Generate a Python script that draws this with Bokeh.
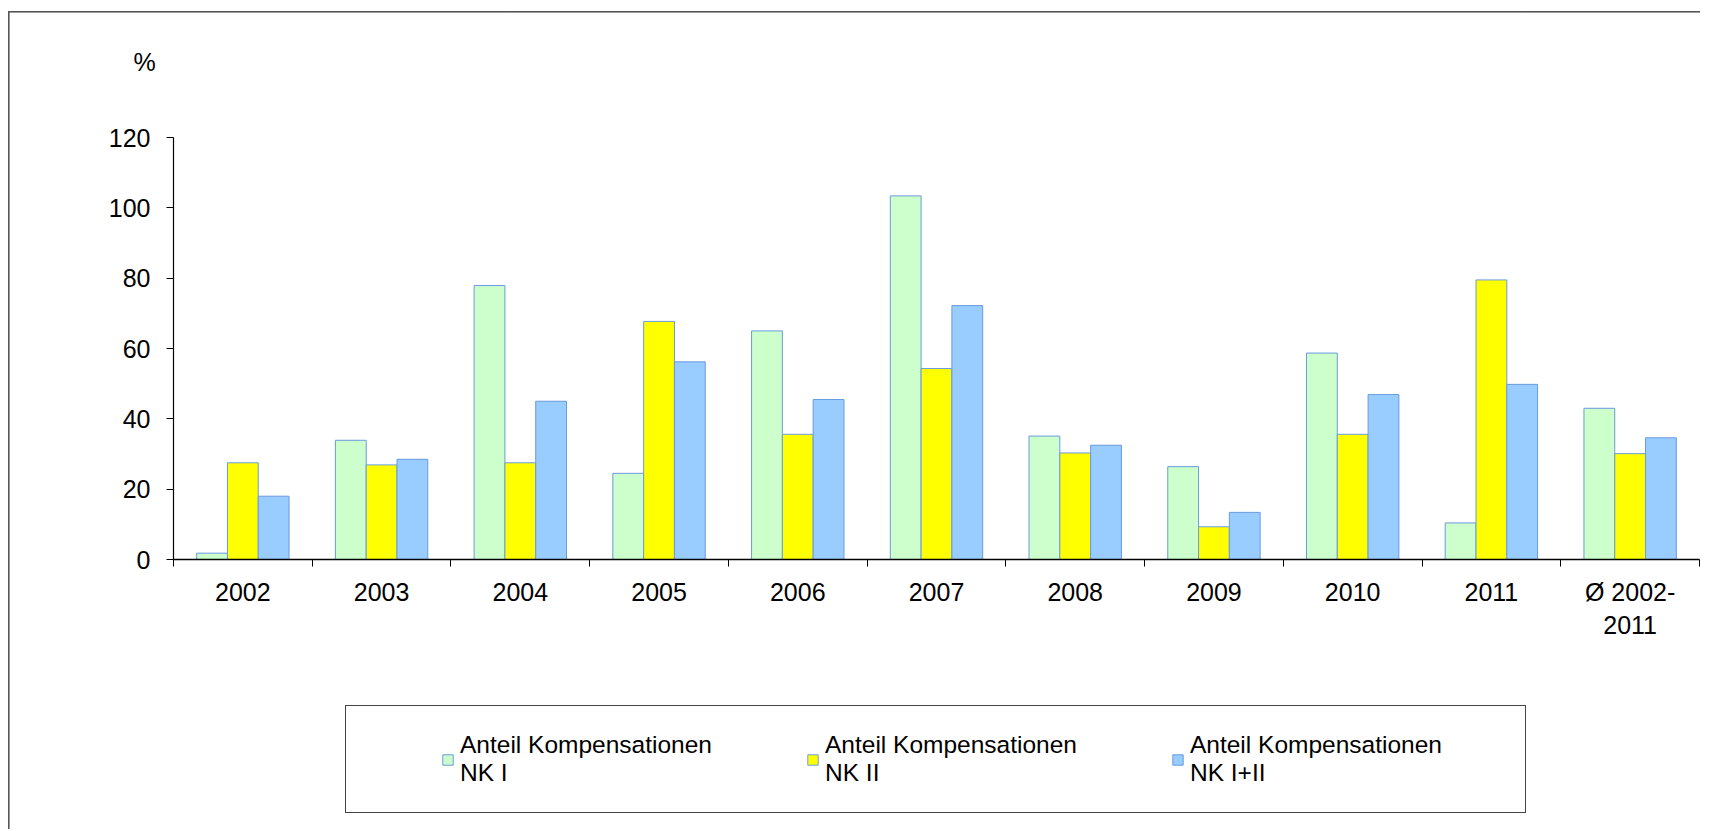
from bokeh.plotting import figure
from bokeh.layouts import column
from bokeh.models import (Range1d, LinearAxis, FixedTicker, Legend, LegendItem,
                          ColumnDataSource)
from bokeh.transform import dodge
from bokeh.embed import file_html
from bokeh.resources import INLINE

# ---------------- data ----------------
categories = ["2002", "2003", "2004", "2005", "2006", "2007", "2008", "2009",
              "2010", "2011", "Ø 2002-\n2011"]
nk1 = [1.8, 33.9, 77.9, 24.5, 65.0, 103.4, 35.1, 26.4, 58.7, 10.4, 43.0]
nk2 = [27.5, 26.9, 27.5, 67.7, 35.6, 54.3, 30.3, 9.3, 35.6, 79.5, 30.1]
nk12 = [18.0, 28.5, 45.0, 56.2, 45.5, 72.2, 32.5, 13.4, 46.9, 49.8, 34.6]
y_ticks = [0, 20, 40, 60, 80, 100, 120]
series_labels = ["Anteil Kompensationen\nNK I",
                 "Anteil Kompensationen\nNK II",
                 "Anteil Kompensationen\nNK I+II"]
series_keys = ["nk1", "nk2", "nk12"]
unit_label = "%"

# ---------------- styles ----------------
FONT = "Liberation Sans"
FS = "25px"
colors = ["#CCFFCC", "#FFFF00", "#99CCFF"]
edge = "#6A9AE0"
bar_w = 0.222
offsets = [-bar_w, 0, bar_w]
W = 1700

n = len(categories)
centers = [i + 0.5 for i in range(n)]
src = ColumnDataSource(dict(x=centers, nk1=nk1, nk2=nk2, nk12=nk12))


def bare(fig):
    fig.outline_line_color = None
    fig.background_fill_color = None
    fig.border_fill_color = None
    return fig


# ---------------- unit label strip ----------------
top = bare(figure(width=W, height=80, x_range=Range1d(0, 1), y_range=Range1d(0, 1),
                  output_backend="svg", toolbar_location=None,
                  x_axis_type=None, y_axis_type=None,
                  min_border_top=75, min_border_bottom=0, min_border_left=0, min_border_right=0))
top.title.text = unit_label
top.title.align = "left"
top.title.offset = -40
top.title.standoff = 0
top.title.text_font = FONT
top.title.text_font_size = FS
top.title.text_font_style = "normal"
top.title.text_color = "black"

# ---------------- chart ----------------
p = bare(figure(width=W, height=610, x_range=Range1d(0, n), y_range=Range1d(0, 120),
                output_backend="svg", toolbar_location=None, title=None,
                x_axis_type=None, y_axis_type=None,
                min_border_left=173, min_border_right=1,
                min_border_top=57, min_border_bottom=131))

for key, off, col in zip(series_keys, offsets, colors):
    p.vbar(x=dodge("x", off, range=p.x_range), top=key, bottom=0, width=bar_w,
           source=src, fill_color=col, line_color=edge, line_width=1)

yax = LinearAxis(ticker=FixedTicker(ticks=y_ticks, minor_ticks=[]))
yax.axis_line_color = "black"
yax.axis_line_width = 1.2
yax.major_tick_out = 7
yax.major_tick_in = 0
yax.major_tick_line_color = "black"
yax.minor_tick_line_color = None
yax.major_label_standoff = 16
yax.major_label_text_font = FONT
yax.major_label_text_font_size = FS
yax.major_label_text_color = "black"
p.add_layout(yax, "left")

xax = LinearAxis(ticker=FixedTicker(ticks=centers, minor_ticks=list(range(n + 1))))
xax.major_label_overrides = {c: lab for c, lab in zip(centers, categories)}
xax.axis_line_color = "black"
xax.axis_line_width = 1.3
xax.major_tick_out = 0
xax.major_tick_in = 0
xax.major_tick_line_color = None
xax.minor_tick_out = 7
xax.minor_tick_in = 0
xax.minor_tick_line_color = "black"
xax.major_label_standoff = 11
xax.major_label_text_font = FONT
xax.major_label_text_font_size = FS
xax.major_label_text_color = "black"
p.add_layout(xax, "below")

# ---------------- legend strip (same series, bars kept out of its view) ----------------
q = bare(figure(width=W, height=139, x_range=Range1d(-30, -30 + n), y_range=Range1d(200, 300),
                output_backend="svg", toolbar_location=None, title=None,
                x_axis_type=None, y_axis_type=None, min_border=0))
qs = []
for key, off, col in zip(series_keys, offsets, colors):
    qs.append(q.vbar(x=dodge("x", off, range=q.x_range), top=key, bottom=0, width=bar_w,
                     source=src, fill_color=col, line_color=edge, line_width=1))

legend = Legend(items=[LegendItem(label=lab, renderers=[r]) for lab, r in zip(series_labels, qs)],
                orientation="horizontal", location=(268, 42),
                border_line_color=None, background_fill_alpha=0,
                padding=0, spacing=94, label_standoff=6, margin=0,
                glyph_width=13, glyph_height=13,
                label_text_font=FONT, label_text_font_size="24.5px", label_text_color="black")
q.add_layout(legend)

# outer chart frame (top/left edges) and legend box as page background lines
g = "linear-gradient(#555555,#555555)"
k = "linear-gradient(#444444,#444444)"
layout = column(top, p, q, spacing=0, styles={
    "background-color": "white",
    "background-image": ", ".join([g, g, k, k, k, k]),
    "background-size": "100% 1.6px, 1.6px 100%, 1181px 1.3px, 1181px 1.3px, 1.3px 108px, 1.3px 108px",
    "background-position": "8px 11px, 8.2px 11px, 345px 704.5px, 345px 811.5px, 344.5px 704.5px, 1525px 704.5px",
    "background-repeat": "no-repeat",
})

open("out.html", "w").write(file_html(layout, INLINE))
